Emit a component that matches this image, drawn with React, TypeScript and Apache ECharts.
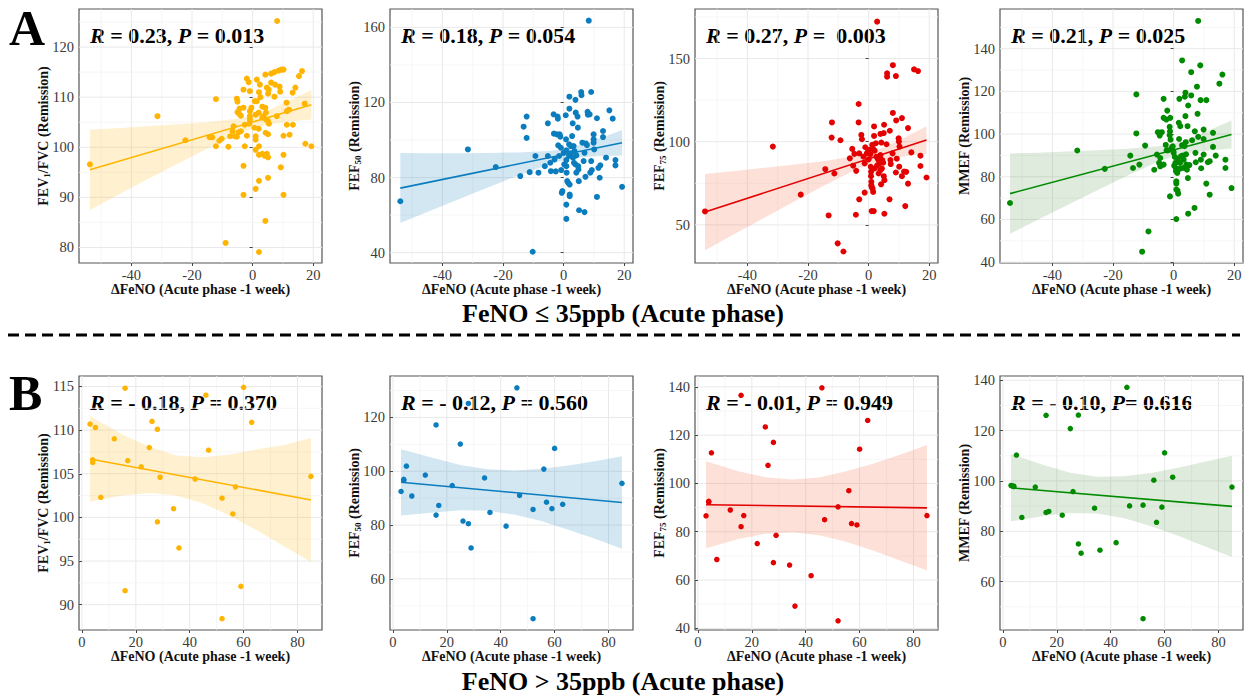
import React, { useEffect, useRef } from "react";
import * as echarts from "echarts";

const SERIF = "Liberation Serif";

// ---------- FeNO <= 35 ppb (acute phase): [ΔFeNO, value] ----------
const fev1FvcLow = [
  [-53.7, 96.6], [-31.4, 106.2], [-22.2, 101.4], [-14.2, 102.0], [-13.3, 102.0], [-12.1, 109.6], [-11.0, 101.3],
  [-12.1, 100.2], [-10.2, 101.7], [-8.9, 80.9], [-8.0, 100.1], [-7.4, 102.2], [-6.6, 103.2], [-5.9, 102.2],
  [-5.2, 109.7], [-5.0, 109.1], [-5.0, 107.0], [-4.5, 106.7], [-3.9, 106.3], [-4.3, 107.7], [-4.6, 103.0],
  [-3.9, 103.2], [-6.3, 104.2], [-5.2, 102.1], [-3.0, 96.3], [-3.0, 90.5], [-3.0, 111.5], [-3.0, 107.9],
  [-2.6, 104.5], [-2.6, 100.2], [-1.9, 113.7], [-1.3, 113.0], [-1.9, 102.3], [-1.1, 104.7], [-0.9, 111.2],
  [-0.9, 107.2], [-0.9, 106.2], [-0.9, 105.5], [-0.4, 107.9], [0.6, 103.9], [0.7, 109.2], [1.0, 106.5],
  [1.0, 102.2], [1.0, 101.5], [1.0, 99.5], [1.0, 91.7], [1.4, 113.5], [1.4, 109.2], [2.0, 106.9], [2.0, 103.7],
  [2.1, 111.0], [2.1, 100.2], [2.1, 98.5], [2.1, 93.3], [2.1, 79.1], [2.4, 112.5], [2.6, 110.0], [3.2, 108.1],
  [3.2, 105.9], [3.2, 98.7], [3.6, 106.2], [4.0, 98.3], [4.2, 114.5], [4.2, 107.9], [4.2, 85.3], [4.3, 102.9],
  [4.4, 106.9], [4.5, 105.5], [4.7, 111.9], [4.7, 98.7], [5.1, 110.7], [5.1, 105.2], [5.1, 102.6], [5.1, 98.0],
  [5.1, 93.9], [5.3, 111.5], [5.4, 104.7], [6.1, 114.7], [6.1, 112.9], [7.2, 115.0], [7.2, 110.1], [7.4, 112.5],
  [8.0, 106.2], [8.1, 125.2], [8.6, 115.3], [8.9, 112.1], [9.1, 111.1], [9.3, 96.0], [9.5, 115.5], [10.2, 115.5],
  [10.2, 102.3], [10.2, 98.5], [10.2, 90.5], [11.2, 108.9], [11.3, 107.2], [11.3, 104.5], [12.0, 107.5],
  [12.2, 102.5], [13.2, 110.9], [13.3, 104.5], [14.1, 111.9], [15.3, 114.2], [16.3, 115.2], [17.2, 108.7],
  [17.4, 100.7], [19.4, 100.2],
];
const fef50Low = [
  [-53.9, 67.4], [-31.6, 95.0], [-22.4, 85.6], [-14.3, 80.8], [-13.2, 107.1], [-12.2, 112.5], [-12.2, 101.1],
  [-11.2, 82.9], [-10.2, 40.5], [-9.3, 91.5], [-8.3, 82.6], [-6.2, 86.1], [-5.2, 108.9], [-5.2, 91.5], [-4.4, 87.9],
  [-4.2, 83.4], [-3.3, 113.7], [-3.2, 103.4], [-3.0, 89.7], [-2.6, 83.3], [-2.2, 103.0], [-2.0, 112.5],
  [-1.9, 111.4], [-1.8, 97.2], [-1.5, 91.5], [-1.3, 103.0], [-1.1, 101.8], [-0.9, 95.9], [-0.8, 84.0],
  [-0.6, 71.9], [-0.4, 72.8], [0.0, 93.2], [0.2, 87.0], [0.7, 113.2], [0.8, 100.4], [0.9, 94.5], [0.9, 89.3],
  [0.9, 86.1], [1.0, 82.6], [0.9, 65.6], [0.9, 58.0], [1.2, 78.1], [1.5, 77.2], [1.8, 97.7], [1.8, 91.5],
  [1.9, 123.1], [1.9, 116.7], [2.0, 76.3], [2.0, 71.0], [2.0, 70.1], [2.4, 96.8], [2.4, 92.9], [2.8, 102.1],
  [3.0, 108.9], [3.1, 90.6], [3.3, 96.8], [3.4, 87.9], [3.6, 94.1], [3.9, 121.4], [3.9, 87.0], [4.0, 114.6],
  [4.2, 91.8], [4.2, 82.6], [4.6, 112.5], [4.7, 106.6], [4.8, 86.1], [4.9, 84.3], [5.0, 78.1], [5.1, 62.6],
  [5.8, 125.6], [5.9, 123.9], [6.2, 98.6], [6.6, 88.8], [6.9, 93.2], [6.9, 61.6], [7.2, 80.4], [7.3, 98.2],
  [7.7, 97.3], [7.9, 115.0], [8.0, 113.5], [8.3, 163.6], [8.6, 113.7], [8.8, 82.6], [9.1, 125.6], [9.1, 88.8],
  [9.3, 84.0], [9.9, 103.0], [9.9, 100.4], [9.9, 98.6], [10.1, 95.0], [11.0, 111.6], [11.0, 69.7], [11.5, 85.2],
  [11.9, 79.9], [12.1, 86.5], [13.0, 104.8], [13.0, 101.6], [14.0, 90.6], [15.1, 115.8], [16.2, 111.4],
  [17.1, 89.3], [17.1, 86.5], [19.3, 75.1],
];
const fef75Low = [
  [-54.0, 58.1], [-31.6, 97.1], [-22.4, 68.2], [-14.3, 83.5], [-13.2, 55.7], [-12.2, 102.5], [-12.1, 111.6],
  [-11.3, 80.9], [-10.2, 38.9], [-9.3, 100.9], [-8.3, 34.0], [-6.2, 90.0], [-5.4, 95.7], [-5.1, 85.6],
  [-4.7, 92.7], [-4.2, 56.1], [-4.1, 82.5], [-3.3, 122.7], [-3.3, 111.6], [-3.1, 93.0], [-3.1, 65.4],
  [-2.4, 104.1], [-2.2, 101.5], [-1.7, 91.0], [-1.3, 87.0], [-1.3, 69.4], [-1.1, 96.7], [-0.6, 93.0],
  [-0.2, 94.0], [0.0, 89.4], [0.2, 95.1], [0.6, 92.6], [0.7, 84.9], [0.8, 81.9], [0.8, 79.3], [0.9, 75.9],
  [0.9, 73.8], [1.0, 72.8], [1.0, 58.3], [1.2, 98.1], [1.3, 71.8], [1.4, 96.1], [1.5, 69.8], [1.7, 58.3],
  [1.8, 109.2], [1.8, 103.5], [2.0, 83.9], [2.0, 94.6], [2.4, 99.1], [2.6, 91.0], [2.8, 85.8], [2.8, 172.2],
  [3.1, 89.4], [3.3, 80.9], [3.6, 87.0], [3.9, 104.7], [3.9, 92.0], [3.9, 82.9], [4.1, 74.4], [4.2, 99.5],
  [4.4, 83.9], [4.5, 89.0], [4.8, 87.4], [5.0, 105.2], [5.0, 79.3], [5.1, 110.2], [5.2, 76.9], [5.2, 56.7],
  [5.9, 98.5], [6.1, 141.1], [6.1, 139.1], [6.9, 65.4], [7.0, 106.6], [7.2, 89.0], [7.3, 86.6], [7.9, 93.0],
  [8.0, 146.0], [8.0, 117.3], [9.0, 139.5], [9.1, 112.8], [9.3, 89.8], [9.0, 81.5], [9.9, 102.1], [10.0, 100.1],
  [10.2, 97.1], [10.1, 85.0], [11.0, 114.2], [11.0, 79.3], [11.7, 82.1], [12.1, 61.3], [12.4, 81.9],
  [13.0, 108.2], [13.0, 74.8], [14.1, 93.6], [15.0, 143.5], [16.3, 142.5], [17.1, 91.6], [17.1, 85.4],
  [19.1, 78.5],
];
const mmefLow = [
  [-54.0, 67.7], [-31.8, 92.3], [-22.7, 83.7], [-14.3, 89.9], [-13.4, 84.1], [-12.3, 118.6], [-12.3, 100.3],
  [-11.3, 85.7], [-10.4, 44.9], [-9.4, 94.6], [-8.3, 54.4], [-6.4, 83.3], [-5.5, 90.4], [-5.2, 100.9],
  [-4.8, 86.5], [-4.6, 99.3], [-4.4, 88.8], [-4.4, 84.9], [-3.9, 100.9], [-3.3, 116.5], [-3.3, 107.6],
  [-3.3, 85.7], [-2.6, 94.9], [-2.4, 106.8], [-2.3, 92.4], [-2.1, 111.0], [-1.9, 92.4], [-1.3, 99.5],
  [-1.3, 103.4], [-1.2, 101.3], [-1.2, 70.8], [-1.1, 107.6], [-1.0, 97.4], [-0.6, 93.5], [-0.3, 94.3],
  [-0.1, 92.0], [0.0, 91.2], [0.2, 85.2], [0.4, 89.3], [0.6, 86.5], [0.7, 84.1], [0.8, 82.6], [0.9, 77.9],
  [0.9, 76.8], [0.9, 74.0], [0.9, 60.2], [1.2, 81.8], [1.3, 73.5], [1.4, 88.4], [1.5, 72.1], [1.7, 105.3],
  [1.8, 97.7], [1.9, 116.5], [2.0, 83.7], [2.1, 86.5], [2.2, 103.7], [2.4, 89.6], [2.8, 134.5], [2.8, 94.8],
  [3.0, 89.9], [3.1, 84.1], [3.3, 88.0], [3.6, 94.3], [3.7, 117.5], [3.9, 119.4], [3.9, 108.4], [4.0, 96.2],
  [4.1, 90.5], [4.2, 85.7], [4.4, 83.3], [4.6, 103.7], [4.7, 79.4], [4.8, 113.4], [4.8, 62.7], [5.2, 85.5],
  [5.8, 129.0], [5.8, 118.1], [6.1, 97.1], [6.9, 65.4], [7.0, 101.3], [7.2, 91.2], [7.3, 86.8], [7.7, 122.2],
  [7.9, 109.5], [8.1, 153.0], [8.1, 98.7], [8.8, 132.2], [8.9, 115.9], [9.0, 88.0], [9.1, 84.0], [9.9, 102.1],
  [9.9, 97.7], [9.9, 90.4], [10.8, 115.9], [10.8, 76.8], [11.3, 86.8], [11.9, 87.3], [11.9, 71.6],
  [13.0, 100.6], [13.0, 94.0], [13.9, 89.9], [15.1, 123.6], [16.1, 127.9], [17.1, 88.0], [17.1, 84.1],
  [19.1, 74.7],
];

// linear fits [x, y] at both ends
const fev1FvcLowFit = [[-53.7, 95.5], [19.4, 108.5]];
const fef50LowFit = [[-53.9, 74.4], [19.3, 98.6]];
const fef75LowFit = [[-54.0, 57.7], [19.1, 101.1]];
const mmefLowFit = [[-54.0, 72.1], [19.1, 99.8]];

// 95% CI bands [x, lower, upper]
const fev1FvcLowBand = [
  [-53.7, 87.5, 103.5], [-45, 90.3, 103.8], [-35, 93.5, 104.2], [-25, 96.6, 104.6], [-15, 99.7, 105.0],
  [-5, 102.6, 105.7], [0, 103.7, 106.4], [5, 104.5, 107.4], [10, 105.0, 108.7], [19.4, 105.55, 111.45],
];
const fef50LowBand = [
  [-53.9, 55.75, 93.05], [-45, 61.6, 93.0], [-35, 68.2, 93.0], [-25, 74.7, 93.1], [-15, 81.1, 93.4],
  [-5, 86.9, 94.1], [0, 89.2, 95.2], [5, 90.6, 97.2], [10, 91.3, 99.8], [19.3, 91.8, 105.4],
];
const fef75LowBand = [
  [-54, 34.75, 80.65], [-45, 43.75, 82.3], [-35, 53.7, 84.2], [-25, 63.6, 86.2], [-15, 73.4, 88.3],
  [-5, 82.5, 91.1], [0, 86.2, 93.3], [5, 88.8, 96.6], [10, 90.6, 100.8], [19.1, 92.9, 109.3],
];
const mmefLowBand = [
  [-54, 53.3, 90.9], [-45, 59.7, 91.3], [-35, 66.8, 91.8], [-25, 73.8, 92.4], [-15, 80.7, 93.1],
  [-5, 87.1, 94.3], [0, 89.55, 95.6], [5, 91.2, 97.8], [10, 92.1, 100.7], [19.1, 93.2, 106.4],
];

// ---------- FeNO > 35 ppb (acute phase) ----------
const highDeltaFeno = [3, 4, 4, 5, 7, 12, 16, 16, 17, 22, 25, 26, 28, 28, 29, 34, 36, 42, 46, 47, 52, 52, 56, 57, 59, 60, 63, 85];
const fev1FvcHigh = [110.7, 106.6, 106.3, 110.3, 102.3, 109.0, 114.8, 91.6, 106.5, 105.8, 108.0, 111.0, 110.1, 99.5, 104.6, 101.0, 96.5, 104.4, 114.0, 107.7, 102.2, 88.4, 100.4, 103.5, 92.1, 114.9, 110.9, 104.7];
const fef50High = [92.5, 97.0, 96.6, 101.9, 90.8, 98.6, 117.2, 83.7, 87.3, 94.7, 110.1, 81.5, 125.2, 80.5, 71.5, 97.5, 84.7, 79.6, 131.0, 91.0, 85.8, 45.2, 100.8, 88.5, 86.1, 108.5, 87.7, 95.5];
const fef75High = [86.6, 92.6, 92.3, 112.7, 68.5, 89.0, 136.5, 82.1, 86.7, 75.1, 123.4, 107.5, 117.0, 67.2, 78.5, 66.2, 49.2, 61.8, 139.6, 85.0, 90.3, 43.1, 97.0, 83.4, 82.8, 114.2, 126.1, 86.7];
const mmefHigh = [98.2, 98.0, 97.8, 110.3, 85.5, 97.6, 126.1, 87.5, 87.9, 86.4, 120.8, 95.8, 126.2, 75.0, 71.3, 89.2, 72.5, 75.5, 137.2, 90.1, 90.4, 45.3, 100.3, 83.6, 89.6, 111.2, 101.5, 97.6];

const fev1FvcHighFit = [[3, 106.7], [85, 102.0]];
const fef50HighFit = [[3, 95.9], [85, 88.4]];
const fef75HighFit = [[3, 91.2], [85, 89.9]];
const mmefHighFit = [[3, 97.3], [85, 89.9]];

const fev1FvcHighBand = [[3, 101.8, 111.6], [15, 102.5, 109.5], [25, 102.8, 108.1], [35, 102.5, 107.1], [45, 101.6, 106.9], [55, 100.2, 107.2], [65, 98.5, 107.8], [75, 96.7, 108.3], [85, 94.9, 109.1]];
const fef50HighBand = [[3, 83.6, 108.2], [15, 84.7, 104.9], [25, 85.5, 102.3], [35, 85.3, 100.7], [45, 83.9, 100.3], [55, 81.5, 100.9], [65, 78.3, 102.1], [75, 74.9, 103.7], [85, 71.2, 105.6]];
const fef75HighBand = [[3, 73.2, 109.2], [15, 77.0, 105.0], [25, 79.2, 102.6], [35, 79.8, 101.6], [45, 78.5, 102.5], [55, 75.8, 105.0], [65, 72.2, 108.2], [75, 68.1, 111.9], [85, 63.9, 115.9]];
const mmefHighBand = [[3, 83.9, 110.7], [15, 86.1, 106.3], [25, 87.3, 103.3], [35, 87.1, 101.7], [45, 85.2, 101.9], [55, 82.0, 103.2], [65, 78.2, 105.3], [75, 74.0, 107.6], [85, 69.8, 110.0]];

// ---------- axes ----------
const lowXRange = [-57.3, 22.9];
const lowXTicks = [-40, -20, 0, 20];
const lowXMinor = [-50, -30, -10, 10];
const highXRange = [-1.1, 89.1];
const highXTicks = [0, 20, 40, 60, 80];
const highXMinor = [10, 30, 50, 70];

const xTitle = "ΔFeNO (Acute phase -1 week)";
const rTexts = ["0.23", "0.18", "0.27", "0.21", "- 0.18", "- 0.12", "- 0.01", "- 0.10"];
const pTexts = [" = 0.013", " = 0.054", " =  0.003", " = 0.025", " = 0.370", " = 0.560", " = 0.949", "= 0.616"];

const YELLOW = { c: "#FFB400", f: "rgba(255,190,40,0.22)" };
const BLUE = { c: "#0B7DBE", f: "rgba(20,125,190,0.19)" };
const RED = { c: "#E30000", f: "rgba(245,110,70,0.21)" };
const GREEN = { c: "#008A00", f: "rgba(40,120,30,0.15)" };

const zip = (xs: number[], ys: number[]) => xs.map((x, i) => [x, ys[i]]);

const panels = [
  { pts: fev1FvcLow, fit: fev1FvcLowFit, band: fev1FvcLowBand, col: YELLOW, yName: "{b|FEV}{s|1}{b|/FVC (Remission)}", yRange: [76.9, 127.6], yTicks: [80, 90, 100, 110, 120], yMinor: [85, 95, 105, 115, 125], low: true },
  { pts: fef50Low, fit: fef50LowFit, band: fef50LowBand, col: BLUE, yName: "{b|FEF}{s|50}{b| (Remission)}", yRange: [34.5, 169.8], yTicks: [40, 80, 120, 160], yMinor: [60, 100, 140], low: true },
  { pts: fef75Low, fit: fef75LowFit, band: fef75LowBand, col: RED, yName: "{b|FEF}{s|75}{b| (Remission)}", yRange: [27.1, 179.8], yTicks: [50, 100, 150], yMinor: [75, 125, 175], low: true },
  { pts: mmefLow, fit: mmefLowFit, band: mmefLowBand, col: GREEN, yName: "{b|MMEF (Remission)}", yRange: [39.6, 158.6], yTicks: [40, 60, 80, 100, 120, 140], yMinor: [50, 70, 90, 110, 130, 150], low: true },
  { pts: zip(highDeltaFeno, fev1FvcHigh), fit: fev1FvcHighFit, band: fev1FvcHighBand, col: YELLOW, yName: "{b|FEV}{s|1}{b|/FVC (Remission)}", yRange: [87.1, 116.2], yTicks: [90, 95, 100, 105, 110, 115], yMinor: [92.5, 97.5, 102.5, 107.5, 112.5], low: false },
  { pts: zip(highDeltaFeno, fef50High), fit: fef50HighFit, band: fef50HighBand, col: BLUE, yName: "{b|FEF}{s|50}{b| (Remission)}", yRange: [41.0, 135.4], yTicks: [60, 80, 100, 120], yMinor: [50, 70, 90, 110, 130], low: false },
  { pts: zip(highDeltaFeno, fef75High), fit: fef75HighFit, band: fef75HighBand, col: RED, yName: "{b|FEF}{s|75}{b| (Remission)}", yRange: [39.3, 144.5], yTicks: [40, 60, 80, 100, 120, 140], yMinor: [50, 70, 90, 110, 130], low: false },
  { pts: zip(highDeltaFeno, mmefHigh), fit: mmefHighFit, band: mmefHighBand, col: GREEN, yName: "{b|MMEF (Remission)}", yRange: [40.8, 141.7], yTicks: [60, 80, 100, 120, 140], yMinor: [50, 70, 90, 110, 130], low: false },
];

const LEFTS = [79, 390, 695, 1000];
const TOPS = [9, 376];
const GW = 243;
const GH = 254;

const tickRich = { t: { fontFamily: SERIF, fontSize: 14.5, color: "#3a3a3a" } };
const nameRich = {
  b: { fontFamily: SERIF, fontWeight: "bold", fontSize: 14, fill: "#111", lineHeight: 16 },
  s: { fontFamily: SERIF, fontWeight: "bold", fontSize: 9, fill: "#111", lineHeight: 16, verticalAlign: "bottom" },
};

function buildOption() {
  const grid: any[] = [];
  const xAxis: any[] = [];
  const yAxis: any[] = [];
  const series: any[] = [];
  const graphic: any[] = [];

  panels.forEach((p, i) => {
    const left = LEFTS[i % 4];
    const top = TOPS[i < 4 ? 0 : 1];
    const xr = p.low ? lowXRange : highXRange;
    const xt = p.low ? lowXTicks : highXTicks;
    const xm = p.low ? lowXMinor : highXMinor;
    grid.push({ left, top, width: GW, height: GH, show: true, borderColor: "#555", borderWidth: 1.2, backgroundColor: "#fff" });
    xAxis.push({
      type: "value", gridIndex: i, min: xr[0], max: xr[1],
      axisLine: { show: false }, splitLine: { show: false },
      axisTick: { show: true, customValues: xt, length: 3, lineStyle: { color: "#444" } },
      axisLabel: { customValues: xt, margin: 4, formatter: (v: number) => `{t|${v}}`, rich: tickRich },
    });
    yAxis.push({
      type: "value", gridIndex: i, min: p.yRange[0], max: p.yRange[1],
      axisLine: { show: false }, splitLine: { show: false },
      axisTick: { show: true, customValues: p.yTicks, length: 3, lineStyle: { color: "#444" } },
      axisLabel: { customValues: p.yTicks, margin: 5, formatter: (v: number) => `{t|${v}}`, rich: tickRich },
    });

    const gridData = [
      ...xt.map((v) => [0, v]), ...xm.map((v) => [1, v]),
      ...p.yTicks.map((v) => [2, v]), ...p.yMinor.map((v) => [3, v]),
    ];
    series.push({
      type: "custom", xAxisIndex: i, yAxisIndex: i, z: 0, silent: true, data: gridData,
      renderItem: (params: any, api: any) => {
        const kind = api.value(0);
        const v = api.value(1);
        const cs = params.coordSys;
        let shape;
        if (kind < 2) {
          const px = api.coord([v, p.yRange[0]])[0];
          shape = { x1: px, y1: cs.y, x2: px, y2: cs.y + cs.height };
        } else {
          const py = api.coord([xr[0], v])[1];
          shape = { x1: cs.x, y1: py, x2: cs.x + cs.width, y2: py };
        }
        return { type: "line", shape, style: { stroke: kind % 2 === 0 ? "#e9e9e9" : "#f4f4f4", lineWidth: kind % 2 === 0 ? 1 : 0.8 } };
      },
    });
    series.push({
      type: "custom", xAxisIndex: i, yAxisIndex: i, z: 1, silent: true, data: p.band,
      renderItem: (params: any, api: any) => {
        if (params.dataIndexInside !== 0) return { type: "group", children: [] };
        const n = params.dataInsideLength;
        const up: number[][] = [];
        const lo: number[][] = [];
        for (let k = 0; k < n; k++) {
          const x = api.value(0, k);
          up.push(api.coord([x, api.value(2, k)]));
          lo.push(api.coord([x, api.value(1, k)]));
        }
        return { type: "polygon", shape: { points: up.concat(lo.reverse()) }, style: { fill: p.col.f } };
      },
    });
    series.push({
      type: "line", xAxisIndex: i, yAxisIndex: i, z: 2, silent: true, data: p.fit,
      symbol: "none", lineStyle: { color: p.col.c, width: 1.6 },
    });
    series.push({
      type: "scatter", xAxisIndex: i, yAxisIndex: i, z: 3, silent: true, data: p.pts,
      symbolSize: p.low ? 6 : 5.5, itemStyle: { color: p.col.c, opacity: 1 },
    });

    // statistics
    graphic.push({
      type: "text", x: left + 11, y: top + 26, silent: true,
      style: {
        text: `{i|R}{n| = ${rTexts[i]}, }{i|P}{n|${pTexts[i]}}`,
        verticalAlign: "middle", align: "left",
        rich: {
          n: { fontFamily: SERIF, fontWeight: "bold", fontSize: 22, fill: "#000" },
          i: { fontFamily: SERIF, fontWeight: "bold", fontStyle: "italic", fontSize: 22, fill: "#000" },
        },
      },
    });
    // x-axis title
    graphic.push({
      type: "text", x: left + GW / 2, y: top + GH + 26, silent: true,
      style: { text: `{b|${xTitle}}`, align: "center", verticalAlign: "middle", rich: nameRich },
    });
    // y-axis title
    graphic.push({
      type: "text", x: left - 36, y: top + GH / 2, rotation: Math.PI / 2, silent: true,
      style: { text: p.yName, align: "center", verticalAlign: "middle", rich: nameRich },
    });
  });

  graphic.push(
    { type: "text", x: 9, y: 28, silent: true, style: { text: "A", fontFamily: SERIF, fontWeight: "bold", fontSize: 50, fill: "#000", verticalAlign: "middle", align: "left" } },
    { type: "text", x: 9, y: 393, silent: true, style: { text: "B", fontFamily: SERIF, fontWeight: "bold", fontSize: 50, fill: "#000", verticalAlign: "middle", align: "left" } },
    { type: "text", x: 623, y: 313, silent: true, style: { text: "FeNO ≤ 35ppb (Acute phase)", fontFamily: SERIF, fontWeight: "bold", fontSize: 26, fill: "#000", verticalAlign: "middle", align: "center" } },
    { type: "text", x: 623, y: 681, silent: true, style: { text: "FeNO > 35ppb (Acute phase)", fontFamily: SERIF, fontWeight: "bold", fontSize: 26, fill: "#000", verticalAlign: "middle", align: "center" } },
    { type: "line", silent: true, shape: { x1: 8, y1: 335, x2: 1240, y2: 335 }, style: { stroke: "#000", lineWidth: 3, lineDash: [11, 6] } },
  );

  return { animation: false, backgroundColor: "#fff", grid, xAxis, yAxis, series, graphic };
}

export default function App() {
  const ref = useRef<HTMLDivElement>(null);
  useEffect(() => {
    if (!ref.current) return;
    const chart = echarts.init(ref.current, undefined, { renderer: "svg" });
    chart.setOption(buildOption() as any);
    return () => chart.dispose();
  }, []);
  return <div ref={ref} style={{ position: "fixed", left: 0, top: 0, width: 1247, height: 696 }} />;
}
